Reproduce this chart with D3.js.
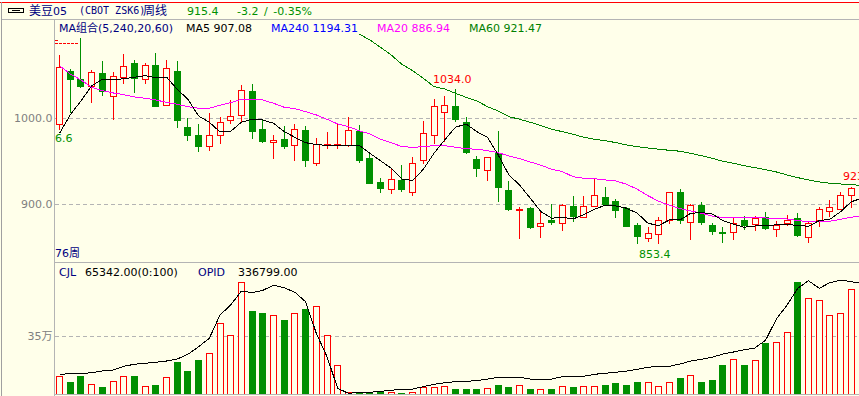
<!DOCTYPE html>
<html>
<head>
<meta charset="utf-8">
<script src="https://cdnjs.cloudflare.com/ajax/libs/d3/7.8.5/d3.min.js"></script>
<style>
    html, body { margin: 0; padding: 0; background: #ffffea; overflow: hidden; }
    text { font-family: "DejaVu Sans", "Noto Sans CJK SC", sans-serif; font-size: 11px; }
    .mono { font-family: "DejaVu Sans Mono", "Noto Sans CJK SC", monospace; font-size: 10px; }
</style>
</head>
<body>
<svg id="chart" width="859" height="396"></svg>
<script>
// weekly bars, the last one is the bar cut by the window edge
const opens = [993.1,1053.9,1044.6,1036.8,1051.6,1025.2,1047.7,1063.2,1044.9,1060.9,1015.2,1055,988.8,979.5,967,980.3,997.7,1003.1,1030.6,986.4,972.1,974.8,
    968.6,985.3,947.2,968.6,968.6,968.6,984.1,952.7,924.8,917.5,927.1,914,951.2,980.3,1007,1014.3,995.4,951.6,939.6,958.9,915.5,892.6,894.6,874.4,880.6,878,897.7,
    884.4,897.3,908.2,902.7,895.4,874.8,860,864.7,881,914,878.6,898.1,874.8,867.5,867.5,880.6,876.3,884.1,871,877.9,883.8,861.6,881,891.9,893.8,910.5,867.8];
const highs = [1073.6,1057.4,1093.4,1056.2,1066.7,1053.9,1074.8,1067.8,1064,1076,1067.8,1066.7,1000,993.4,1006.2,1001.5,1021.3,1038.8,1039.9,998.1,980.6,991.1,
    993.4,991.1,976.8,984.5,994.6,1001.2,991.9,959.3,930.6,941.9,945.7,954.7,997.3,1022.5,1026,1034,1001.2,956.2,954.7,985.3,927.1,896.9,896.9,891.1,900.4,900.4,909.7,
    909.7,930.3,920.2,906.2,897.3,878.3,873.6,885.3,914,917.5,900.4,903.1,878,873.6,884.1,886.8,886.4,891.1,880.3,887.6,889.6,879.1,896.6,905,914.3,920.2,867.8];
const lows = [986.4,1006.2,1035.3,1018.2,1026,998.1,1039.6,1029.5,1039.6,1013.5,1014,989.1,974,961.2,962.4,970.2,993.4,995.7,976,971.7,953,964.3,
    950.7,943.8,944.9,964.7,964.7,966.7,948.4,924,913.5,912.4,914.3,910,947.3,970.2,972.8,996.1,958.9,932.1,927.5,903,892.2,860,871.3,861.2,876,869.3,879.5,
    883.8,897.3,899.2,884.1,873.3,853.9,855.8,853.4,877.5,877.5,858.5,876.3,864.3,855.4,858.5,870.2,869.3,870.5,862.3,874.8,861.7,855.4,874,885.3,893.4,895.4,830];
const closes = [1059.3,1044.6,1036.4,1053.5,1030.6,1048.9,1060.5,1046.6,1061.7,1014.3,1058.2,997.3,979.8,967,980.3,995.4,1002.4,1032.6,984.1,973.6,974.5,967,
    986.4,950.7,969,969.8,969.3,985.3,950.7,924,918.2,929.1,916.7,947.7,982.6,1014,1015.2,998.9,960,941.4,954.7,919.3,893.4,894.2,872.5,877.9,878.6,898.9,885.3,
    897.7,910.5,899.2,892.6,874,862.4,866.3,881.4,914,881.4,898.9,878.6,868.2,866.3,877.1,875.6,883.8,871.3,875.6,881.4,863.2,878,893.8,896.1,910.5,918.6,830];

const ma5 = [982.6,1003.9,1020.2,1037.6,1045.4,1044.6,1046.1,1047.7,1049.6,1047.2,1048,1033.8,1022.1,1002.7,995.4,984.1,984.9,995.4,998.9,998.1,994.2,984.5,
    977.9,971.7,969.3,968.6,968.6,968.6,968.6,959.3,950.7,941.9,929.5,927.5,940.7,959.3,974.8,989.6,993.4,984.5,977.9,957.4,934.1,922.5,907,891.4,883.8,884.9,882.9,
    888,894.2,898.9,898.1,895.4,889.6,878,875.2,881.8,881.8,889.6,890.3,888.8,881,876.8,873.3,874.8,875.6,876,876.3,875.6,874.4,881,882.6,891.4,903,907.08];
const ma20 = [1061.2,1051.6,1044.6,1036.1,1032.1,1029.5,1027.5,1024.8,1023.3,1021.3,1018.6,1016.3,1013.5,1011.7,1011.7,1015.2,1018.2,1022.1,1022.1,1021.3,1017.5,1012.8,
    1011.2,1007.7,1003.9,998.9,993.4,990.3,985.6,981.8,975.6,971.7,967,966.3,967,968.2,968.2,966.3,964.7,964,962.4,960,956.2,953.1,949.2,945.4,940.7,938,932.1,
    930.3,929.8,928.3,927.1,923.3,917.5,910,903.5,898.9,894.9,892.2,889.6,886.4,884.5,884.5,884.5,884.5,884.1,883.3,882.9,881,879.8,879.5,880.3,882.6,884.9,886.94];
const ma60 = [null,null,null,null,null,null,null,null,null,null,null,null,null,null,null,null,null,null,null,null,null,null,null,null,null,null,null,null,
    1098,1091.1,1082.6,1073.6,1062.8,1055.4,1046.6,1036.8,1034.1,1029.1,1024.4,1020.2,1013.5,1008.5,1001.9,998.9,995.4,991.4,987.2,984.5,981.4,
    978,975.6,974,971.7,969,967,965.5,964,962.8,961.7,959.3,956.5,953.5,950,947.7,944.9,942.6,940.3,937.6,934.1,931,928.3,926,924.5,923.6,923.3,921.47];

const volumes = [107000,66500,102800,58600,36300,76800,107000,102800,46500,54400,101000,187400,139000,199500,246000,427400,354800,675200,501700,483600,475700,441300,
    487800,513800,530100,354800,173500,10300,4200,6000,13900,10300,6000,10300,40500,40500,46500,24200,24200,24200,34500,54400,36300,52600,30200,28400,30200,46500,42300,
    46500,46500,54400,60500,48400,66500,70700,46500,70700,96700,113000,72500,78600,169300,209800,169300,203700,302300,312500,373000,677000,578500,566400,475700,487800,632900,90700];
const opid = [60100,61900,61900,64900,70100,73200,84500,90600,93600,96700,100600,106700,121000,144200,169800,240900,271400,314000,308900,316200,331400,324100,
    310100,281400,185100,113700,17400,2100,5200,5200,8200,11300,14300,15200,22300,29600,34500,37500,38700,40600,45700,50900,50900,50900,45700,44800,45700,52700,54000,
    54000,60100,63100,66200,70100,75300,81400,84500,84500,91500,100600,105800,111900,122000,128100,135100,140300,164600,228700,271400,322300,345500,322300,339400,347600,342400,336799];

const priceTicks = [900, 1000];
const volumeTicks = [350000];

const red = '#ff0000', green = '#009000', navy = '#000080', paper = '#ffffea', rule = '#b4b4b4';

const svg = d3.select('#chart');

const x = d3.scaleLinear().domain([0, 75]).range([59.5, 862]);
const yPrice = d3.scaleLinear().domain([900, 1000]).range([204.3, 118.3]);
const yVolume = d3.scaleLinear().domain([0, 350000]).range([394, 336.1]);
const yOpid = d3.scaleLinear().domain([0, 340000]).range([394, 282.5]);

const barColor = (i) => i === 75 ? navy : (closes[i] >= opens[i] ? red : green);
const px = (i) => Math.round(x(i) - 0.5) + 0.5;

const defs = svg.append('defs');
defs.append('clipPath').attr('id', 'priceClip').append('rect').attr('x', 55).attr('y', 20).attr('width', 804).attr('height', 242);
defs.append('clipPath').attr('id', 'volumeClip').append('rect').attr('x', 55).attr('y', 263).attr('width', 804).attr('height', 131);

// frame
svg.append('rect').attr('width', 859).attr('height', 396).attr('fill', paper);
svg.append('rect').attr('width', 859).attr('height', 2).attr('fill', '#ffffff');
const frame = svg.append('g').attr('shape-rendering', 'crispEdges');
frame.append('rect').attr('x', 0).attr('y', 2).attr('width', 859).attr('height', 1).attr('fill', red);
frame.append('rect').attr('x', 1).attr('y', 2).attr('width', 1).attr('height', 394).attr('fill', '#a0a0a0');
frame.append('rect').attr('x', 2).attr('y', 19).attr('width', 857).attr('height', 1).attr('fill', rule);
frame.append('rect').attr('x', 54).attr('y', 19).attr('width', 1).attr('height', 377).attr('fill', rule);
frame.append('rect').attr('x', 54).attr('y', 262).attr('width', 805).attr('height', 1).attr('fill', rule);
frame.append('rect').attr('x', 54).attr('y', 394).attr('width', 805).attr('height', 1).attr('fill', rule);

// axes with the dashed grid
const drawAxis = (scale, ticks, format) => {
    const g = svg.append('g')
        .attr('transform', 'translate(54.5,0)')
        .call(d3.axisLeft(scale).tickValues(ticks).tickSize(-805).tickPadding(2).tickFormat(format));
    g.select('.domain').remove();
    g.selectAll('.tick line')
        .attr('stroke', rule)
        .attr('stroke-dasharray', '4,3')
        .attr('shape-rendering', 'crispEdges');
    g.selectAll('.tick text')
        .attr('fill', '#808080')
        .style('font-family', '"DejaVu Sans", "Noto Sans CJK SC", sans-serif')
        .style('font-size', '11px');
};
drawAxis(yPrice, priceTicks, d3.format('.1f'));
drawAxis(yVolume, volumeTicks, (d) => (d / 10000) + '万');

// candles
const candles = svg.append('g').attr('clip-path', 'url(#priceClip)').attr('shape-rendering', 'crispEdges');
const candle = candles.selectAll('g').data(opens).enter().append('g');

candle.append('line')
    .attr('x1', (d, i) => px(i)).attr('x2', (d, i) => px(i))
    .attr('y1', (d, i) => yPrice(highs[i])).attr('y2', (d, i) => yPrice(lows[i]))
    .attr('stroke', (d, i) => barColor(i));

candle.append('rect')
    .attr('x', (d, i) => px(i) - 3)
    .attr('width', 6)
    .attr('y', (d, i) => yPrice(Math.max(opens[i], closes[i])))
    .attr('height', (d, i) => Math.abs(yPrice(opens[i]) - yPrice(closes[i])))
    .attr('fill', (d, i) => barColor(i) === green ? green : paper)
    .attr('stroke', (d, i) => barColor(i));

// moving averages
const priceLine = d3.line()
    .defined((d) => d !== null)
    .x((d, i) => x(i))
    .y((d) => yPrice(d));

const lines = svg.append('g').attr('clip-path', 'url(#priceClip)').attr('fill', 'none').attr('shape-rendering', 'crispEdges');
lines.append('path').attr('d', priceLine(ma60)).attr('stroke', '#008000');
lines.append('path').attr('d', priceLine(ma20)).attr('stroke', '#ff00ff');
lines.append('path').attr('d', priceLine(ma5)).attr('stroke', '#000000');

// volume and open interest
const volBars = svg.append('g').attr('clip-path', 'url(#volumeClip)').attr('shape-rendering', 'crispEdges');
volBars.selectAll('rect').data(volumes).enter().append('rect')
    .attr('x', (d, i) => px(i) - 3)
    .attr('width', 6)
    .attr('y', (d) => yVolume(d))
    .attr('height', (d) => 394 - yVolume(d))
    .attr('fill', (d, i) => barColor(i) === green ? green : paper)
    .attr('stroke', (d, i) => barColor(i));

const opidLine = d3.line().x((d, i) => x(i)).y((d) => yOpid(d));
svg.append('path')
    .attr('clip-path', 'url(#volumeClip)')
    .attr('d', opidLine(opid))
    .attr('fill', 'none')
    .attr('stroke', '#000000')
    .attr('shape-rendering', 'crispEdges');

// high marker at the top left
const marker = svg.append('g').attr('stroke', red).attr('shape-rendering', 'crispEdges');
marker.append('line').attr('x1', 55).attr('x2', 58).attr('y1', 40.5).attr('y2', 40.5);
marker.append('line').attr('x1', 55).attr('x2', 79).attr('y1', 43.5).attr('y2', 43.5).attr('stroke-dasharray', '3,1');

// link icon
const icon = svg.append('g').attr('fill', 'none').attr('stroke', '#000000').attr('shape-rendering', 'crispEdges');
icon.append('rect').attr('x', 8.5).attr('y', 8.5).attr('width', 15).attr('height', 4).attr('rx', 1);
icon.append('line').attr('x1', 12).attr('x2', 20).attr('y1', 10.5).attr('y2', 10.5);

const label = (text, tx, ty, color, cls, anchor) => svg.append('text')
    .attr('x', tx).attr('y', ty).attr('fill', color)
    .attr('class', cls || null)
    .attr('text-anchor', anchor || 'start')
    .text(text);

// title row
label('美豆', 29, 15, navy).style('font-size', '12px');
label('05', 53, 15, navy);
label('(CBOT ZSK6)', 79, 14, navy, 'mono');
label('周线', 143, 15, navy).style('font-size', '12px');
label('915.4', 187, 15, green);
label('-3.2 / -0.35%', 237, 15, green).style('word-spacing', '2px');

// legend row
label('MA组合(5,240,20,60)', 59, 31.5, navy);
label('MA5 907.08', 186, 31.5, '#000000');
label('MA240 1194.31', 271, 31.5, '#0000ff');
label('MA20 886.94', 377, 31.5, '#ff00ff');
label('MA60 921.47', 469, 31.5, '#008000');

// price notes
label('1034.0', 433, 83, red);
label('853.4', 639, 258, green);
label('923.5', 843, 180, red);
label('6.6', 55, 142, green);
label('76周', 55, 257, navy);

// volume legend
label('CJL', 59, 276, navy);
label('65342.00(0:100)', 85, 276, '#000000');
label('OPID', 198, 276, navy);
label('336799.00', 238, 276, '#000000');
</script>
</body>
</html>
